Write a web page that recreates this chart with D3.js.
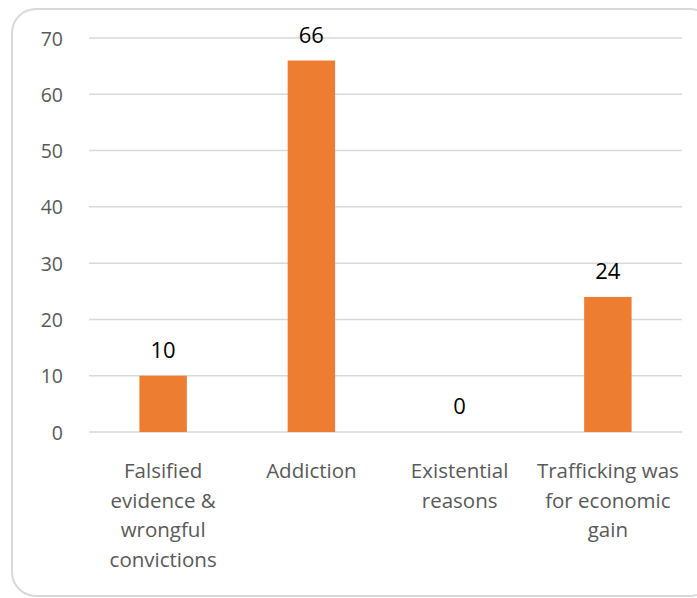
<!DOCTYPE html>
<html>
<head>
<meta charset="utf-8">
<script src="https://cdn.jsdelivr.net/npm/d3@7"></script>
<style>
  html, body { margin: 0; padding: 0; background: #fff; }
  svg { display: block; }
</style>
</head>
<body>
<svg id="chart" width="697" height="598"></svg>
<script>
const categories = [
  ["Falsified", "evidence &", "wrongful", "convictions"],
  ["Addiction"],
  ["Existential", "reasons"],
  ["Trafficking was", "for economic", "gain"]
];
const values = [10, 66, 0, 24];
const yTicks = [0, 10, 20, 30, 40, 50, 60, 70];

const svg = d3.select("#chart");
const font = "'Open Sans', Lato, sans-serif";

svg.append("rect")
  .attr("x", 12).attr("y", 9)
  .attr("width", 702).attr("height", 587)
  .attr("rx", 24).attr("ry", 24)
  .attr("fill", "#fff")
  .attr("stroke", "#d9d9d9").attr("stroke-width", 2);

const x = d3.scaleBand()
  .domain(d3.range(categories.length))
  .range([89, 682])
  .paddingInner(0.68).paddingOuter(0.34);

const y = d3.scaleLinear().domain([0, 70]).range([432, 38]);

// gridlines
svg.append("g")
  .selectAll("line")
  .data(yTicks)
  .join("line")
  .attr("x1", 89).attr("x2", 682)
  .attr("y1", d => y(d)).attr("y2", d => y(d))
  .attr("stroke", "#d9d9d9").attr("stroke-width", 1.5);

// y axis labels
const yAxis = d3.axisLeft(y).tickValues(yTicks).tickSize(0).tickPadding(0);
const ya = svg.append("g").attr("transform", "translate(63,0)").call(yAxis);
ya.select(".domain").remove();
ya.selectAll("text")
  .attr("font-family", font).attr("font-size", 19.5)
  .attr("fill", "#595959").attr("dy", "0.36em");

// bars
svg.append("g")
  .selectAll("rect")
  .data(values)
  .join("rect")
  .attr("x", (d, i) => x(i))
  .attr("width", x.bandwidth())
  .attr("y", d => y(d))
  .attr("height", d => y(0) - y(d))
  .attr("fill", "#ED7D31");

// value labels
svg.append("g")
  .selectAll("text")
  .data(values)
  .join("text")
  .attr("x", (d, i) => x(i) + x.bandwidth() / 2)
  .attr("y", d => y(d) - 18)
  .attr("text-anchor", "middle")
  .attr("font-family", font).attr("font-size", 22)
  .attr("fill", "#000")
  .text(d => d);

// category labels
const cg = svg.append("g")
  .selectAll("text")
  .data(categories)
  .join("text")
  .attr("x", (d, i) => x(i) + x.bandwidth() / 2)
  .attr("y", 478)
  .attr("text-anchor", "middle")
  .attr("font-family", font).attr("font-size", 20.5)
  .attr("fill", "#595959");
cg.selectAll("tspan")
  .data(d => d)
  .join("tspan")
  .attr("x", function() { return d3.select(this.parentNode).attr("x"); })
  .attr("dy", (d, i) => i === 0 ? 0 : 29.5)
  .text(d => d);
</script>
</body>
</html>
